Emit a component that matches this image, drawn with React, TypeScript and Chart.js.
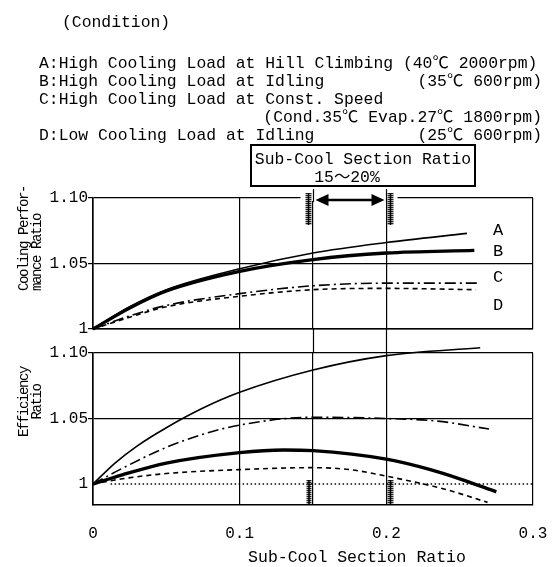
import React, { useEffect, useRef } from 'react';
import { Chart, registerables } from 'chart.js';

Chart.register(...registerables);

// ---------------- data ----------------
const X_TICKS = [0, 0.1, 0.15, 0.2, 0.3];
const X_TICK_LABELS = ['0', '0.1', '', '0.2', '0.3'];
const COOL_Y_TICKS = [1, 1.05, 1.1];
const COOL_Y_LABELS = ['1', '1.05', '1.10'];
const EFF_Y_TICKS = [1, 1.05, 1.1];
const EFF_Y_LABELS = ['1', '1.05', '1.10'];
const RANGE = [0.15, 0.2];
const SERIES_LABELS = ['A', 'B', 'C', 'D'];

// Cooling performance ratio (upper panel)
const COOL_A_X = [0, 0.025, 0.05, 0.1, 0.15, 0.2, 0.255];
const COOL_A_Y = [1.0, 1.017, 1.030, 1.046, 1.058, 1.066, 1.073];
const COOL_B_X = [0, 0.025, 0.05, 0.1, 0.15, 0.2, 0.26];
const COOL_B_Y = [1.0, 1.016, 1.029, 1.044, 1.053, 1.058, 1.060];
const COOL_C_X = [0, 0.025, 0.05, 0.1, 0.15, 0.2, 0.263];
const COOL_C_Y = [1.0, 1.010, 1.018, 1.027, 1.033, 1.035, 1.035];
const COOL_D_X = [0, 0.025, 0.05, 0.1, 0.15, 0.2, 0.261];
const COOL_D_Y = [1.0, 1.009, 1.017, 1.025, 1.030, 1.031, 1.030];

// Efficiency ratio (lower panel)
const EFF_A_X = [0, 0.015, 0.03, 0.05, 0.075, 0.1, 0.15, 0.2, 0.264];
const EFF_A_Y = [1.0, 1.016, 1.029, 1.043, 1.058, 1.070, 1.087, 1.098, 1.104];
const EFF_B_X = [0, 0.02, 0.05, 0.1, 0.13, 0.15, 0.2, 0.23, 0.25, 0.275];
const EFF_B_Y = [1.0, 1.007, 1.016, 1.024, 1.026, 1.0255, 1.019, 1.011, 1.004, 0.994];
const EFF_C_X = [0, 0.02, 0.05, 0.075, 0.1, 0.15, 0.2, 0.235, 0.27];
const EFF_C_Y = [1.0, 1.012, 1.028, 1.038, 1.045, 1.051, 1.050, 1.048, 1.042];
const EFF_D_X = [0, 0.02, 0.05, 0.1, 0.15, 0.175, 0.2, 0.24, 0.269];
const EFF_D_Y = [1.0, 1.004, 1.008, 1.011, 1.0125, 1.011, 1.006, 0.996, 0.986];
const EFF_BASE_X = [0.012, 0.3];
const EFF_BASE_Y = [1.0, 1.0];

// ---------------- layout / style ----------------
const PAGE_W = 555;
const PAGE_H = 567;
const PLOT_LEFT = 93;
const PLOT_RIGHT = 533;
const COOL_TOP = 198;
const COOL_BOTTOM = 329;
const EFF_TOP = 353;
const EFF_BOTTOM = 505;
const Y_AXIS_W = 60;
const X_AXIS_H = 45;
const MONO = "'Liberation Mono', 'Noto Sans CJK JP', monospace";

const STYLES: Record<string, { width: number; dash: number[] }> = {
  A: { width: 1.6, dash: [] },
  B: { width: 3.4, dash: [] },
  C: { width: 1.6, dash: [11, 4, 2, 4] },
  D: { width: 1.6, dash: [5, 4] },
  base: { width: 1.4, dash: [1.5, 2.5] },
};

function pts(xs: number[], ys: number[]) {
  return xs.map((x, i) => ({ x, y: ys[i] }));
}

function ds(label: string, xs: number[], ys: number[], styleKey: string) {
  const s = STYLES[styleKey];
  return {
    label,
    data: pts(xs, ys),
    showLine: true,
    borderColor: '#000',
    backgroundColor: '#000',
    borderWidth: s.width,
    borderDash: s.dash,
    pointRadius: 0,
    cubicInterpolationMode: 'monotone' as const,
    clip: false as const,
  };
}

function hatch(ctx: CanvasRenderingContext2D, x: number, y: number, w: number, h: number) {
  ctx.fillStyle = '#222';
  for (let yy = y; yy < y + h; yy += 2) ctx.fillRect(x, yy, w, 1.3);
  ctx.fillStyle = '#000';
  ctx.fillRect(x + w / 2 - 0.75, y, 1.5, h);
}

function arrow(ctx: CanvasRenderingContext2D, x1: number, x2: number, y: number) {
  const hl = 13;
  const hw = 6;
  ctx.strokeStyle = '#000';
  ctx.lineWidth = 2.4;
  ctx.beginPath();
  ctx.moveTo(x1 + hl - 2, y);
  ctx.lineTo(x2 - hl + 2, y);
  ctx.stroke();
  ctx.fillStyle = '#000';
  ctx.beginPath();
  ctx.moveTo(x1, y);
  ctx.lineTo(x1 + hl, y - hw);
  ctx.lineTo(x1 + hl, y + hw);
  ctx.closePath();
  ctx.fill();
  ctx.beginPath();
  ctx.moveTo(x2, y);
  ctx.lineTo(x2 - hl, y - hw);
  ctx.lineTo(x2 - hl, y + hw);
  ctx.closePath();
  ctx.fill();
}

const coolOverlay = {
  id: 'coolOverlay',
  afterDraw(chart: any) {
    const { ctx, chartArea } = chart;
    const xs = chart.scales.x;
    const xa = Math.round(xs.getPixelForValue(RANGE[0])) + 0.5;
    const xb = Math.round(xs.getPixelForValue(RANGE[1])) + 0.5;
    const top = chartArea.top;
    ctx.save();
    ctx.fillStyle = '#fff';
    ctx.fillRect(xa - 13, top - 3, xb + 11 - (xa - 13), 6);
    ctx.strokeStyle = '#000';
    ctx.lineWidth = 1.2;
    ctx.beginPath();
    ctx.moveTo(xa, top - 9);
    ctx.lineTo(xa, top + 4);
    ctx.moveTo(xb, top - 9);
    ctx.lineTo(xb, top + 4);
    ctx.stroke();
    hatch(ctx, xa - 8, top - 5, 6, 32);
    hatch(ctx, xb + 1, top - 5, 6, 32);
    arrow(ctx, xa + 2, xb - 2, top + 2);
    ctx.restore();
  },
};

const effOverlay = {
  id: 'effOverlay',
  afterDraw(chart: any) {
    const { ctx, chartArea } = chart;
    const xs = chart.scales.x;
    const xa = Math.round(xs.getPixelForValue(RANGE[0])) + 0.5;
    const xb = Math.round(xs.getPixelForValue(RANGE[1])) + 0.5;
    ctx.save();
    ctx.strokeStyle = '#000';
    ctx.lineWidth = 1.2;
    ctx.beginPath();
    ctx.moveTo(xa, COOL_BOTTOM);
    ctx.lineTo(xa, chartArea.top);
    ctx.moveTo(xb, COOL_BOTTOM);
    ctx.lineTo(xb, chartArea.top);
    ctx.stroke();
    hatch(ctx, xa - 7, chartArea.bottom - 25, 5, 24);
    hatch(ctx, xb + 1, chartArea.bottom - 25, 6, 24);
    ctx.restore();
  },
};

function makeOptions(
  top: number,
  bottom: number,
  yMin: number,
  yMax: number,
  yTicks: number[],
  yLabels: string[],
  showX: boolean,
  hideYGridAt1: boolean
): any {
  return {
    responsive: false,
    animation: false,
    events: [],
    layout: {
      padding: {
        left: PLOT_LEFT - Y_AXIS_W,
        right: PAGE_W - PLOT_RIGHT,
        top,
        bottom: PAGE_H - bottom - X_AXIS_H,
      },
    },
    plugins: { legend: { display: false }, tooltip: { enabled: false }, title: { display: false } },
    scales: {
      x: {
        type: 'linear',
        min: 0,
        max: 0.3,
        afterBuildTicks: (s: any) => {
          s.ticks = X_TICKS.map((value) => ({ value }));
        },
        afterFit: (s: any) => {
          s.height = X_AXIS_H;
          s.paddingLeft = 0;
          s.paddingRight = 0;
        },
        ticks: {
          display: showX,
          autoSkip: false,
          maxRotation: 0,
          padding: 19,
          color: '#000',
          font: { family: MONO, size: 16 },
          callback: (_v: any, i: number) => X_TICK_LABELS[i],
        },
        grid: { color: '#000', lineWidth: 1.2, drawTicks: false },
        border: { color: '#000', width: 1.6 },
      },
      y: {
        type: 'linear',
        min: yMin,
        max: yMax,
        afterBuildTicks: (s: any) => {
          s.ticks = yTicks.map((value) => ({ value }));
        },
        afterFit: (s: any) => {
          s.width = Y_AXIS_W;
          s.paddingTop = 0;
          s.paddingBottom = 0;
        },
        ticks: {
          autoSkip: false,
          padding: 0,
          color: '#000',
          font: { family: MONO, size: 16 },
          callback: (_v: any, i: number) => yLabels[i],
        },
        grid: {
          color: (c: any) =>
            hideYGridAt1 && c.tick && Math.abs(c.tick.value - 1) < 1e-9 ? 'rgba(0,0,0,0)' : '#000',
          lineWidth: 1.2,
          drawTicks: true,
          tickLength: 5,
        },
        border: { color: '#000', width: 1.6 },
      },
    },
  };
}

function Txt(props: {
  x: number;
  y: number;
  align?: 'left' | 'right' | 'center';
  size?: number;
  children: React.ReactNode;
  extra?: React.CSSProperties;
}) {
  const { x, y, align = 'left', size = 16.4, children, extra } = props;
  const style: React.CSSProperties = {
    position: 'absolute',
    top: y,
    whiteSpace: 'pre',
    fontSize: size,
    lineHeight: 1,
    transform: 'translateY(-50%)',
  };
  if (align === 'left') style.left = x;
  else if (align === 'right') style.right = PAGE_W - x;
  else {
    style.left = x;
    style.transform = 'translate(-50%, -50%)';
  }
  return <div style={{ ...style, ...extra }}>{children}</div>;
}

export default function App() {
  const coolRef = useRef<HTMLCanvasElement>(null);
  const effRef = useRef<HTMLCanvasElement>(null);

  useEffect(() => {
    const c1 = new Chart(coolRef.current as HTMLCanvasElement, {
      type: 'scatter',
      data: {
        datasets: [
          ds('A', COOL_A_X, COOL_A_Y, 'A'),
          ds('B', COOL_B_X, COOL_B_Y, 'B'),
          ds('C', COOL_C_X, COOL_C_Y, 'C'),
          ds('D', COOL_D_X, COOL_D_Y, 'D'),
        ] as any,
      },
      options: makeOptions(COOL_TOP, COOL_BOTTOM, 1, 1.1, COOL_Y_TICKS, COOL_Y_LABELS, false, false),
      plugins: [coolOverlay],
    });
    const c2 = new Chart(effRef.current as HTMLCanvasElement, {
      type: 'scatter',
      data: {
        datasets: [
          ds('base', EFF_BASE_X, EFF_BASE_Y, 'base'),
          ds('A', EFF_A_X, EFF_A_Y, 'A'),
          ds('B', EFF_B_X, EFF_B_Y, 'B'),
          ds('C', EFF_C_X, EFF_C_Y, 'C'),
          ds('D', EFF_D_X, EFF_D_Y, 'D'),
        ] as any,
      },
      options: makeOptions(EFF_TOP, EFF_BOTTOM, 0.984, 1.1, EFF_Y_TICKS, EFF_Y_LABELS, true, true),
      plugins: [effOverlay],
    });
    return () => {
      c1.destroy();
      c2.destroy();
    };
  }, []);

  const canvasStyle: React.CSSProperties = { position: 'absolute', left: 0, top: 0, width: PAGE_W, height: PAGE_H };
  const labelYs = [230, 251, 277, 305];
  const rotBase: React.CSSProperties = {
    position: 'absolute',
    left: 17.5,
    transform: 'rotate(-90deg)',
    transformOrigin: 'left top',
    fontSize: 14,
    lineHeight: '13px',
    letterSpacing: -1.4,
    whiteSpace: 'pre',
  };

  return (
    <div
      style={{
        position: 'absolute',
        left: 0,
        top: 0,
        width: PAGE_W,
        height: PAGE_H,
        background: '#fff',
        overflow: 'hidden',
        fontFamily: MONO,
        color: '#000',
      }}
    >
      <canvas ref={coolRef} width={PAGE_W} height={PAGE_H} style={canvasStyle} />
      <canvas ref={effRef} width={PAGE_W} height={PAGE_H} style={canvasStyle} />

      <Txt x={62} y={23}>(Condition)</Txt>
      <Txt x={39} y={64}>A:High Cooling Load at Hill Climbing (40℃ 2000rpm)</Txt>
      <Txt x={39} y={82}>B:High Cooling Load at Idling</Txt>
      <Txt x={542} y={82} align="right">(35℃ 600rpm)</Txt>
      <Txt x={39} y={100}>C:High Cooling Load at Const. Speed</Txt>
      <Txt x={542} y={118} align="right">(Cond.35℃ Evap.27℃ 1800rpm)</Txt>
      <Txt x={39} y={136}>D:Low Cooling Load at Idling</Txt>
      <Txt x={542} y={136} align="right">(25℃ 600rpm)</Txt>

      <div
        style={{
          position: 'absolute',
          left: 250,
          top: 144,
          width: 226,
          height: 43,
          border: '2px solid #000',
          boxSizing: 'border-box',
        }}
      />
      <Txt x={363} y={160} align="center">Sub-Cool Section Ratio</Txt>
      <Txt x={347} y={178} align="center">15～20%</Txt>

      {SERIES_LABELS.map((l, i) => (
        <Txt key={l} x={498} y={labelYs[i]} align="center" size={17}>
          {l}
        </Txt>
      ))}

      <div style={{ ...rotBase, top: 291, textAlign: 'left' }}>
        <div>Cooling Perfor-</div>
        <div>mance Ratio</div>
      </div>
      <div style={{ ...rotBase, top: 452, width: 100, textAlign: 'center' }}>
        <div>Efficiency</div>
        <div>Ratio</div>
      </div>

      <Txt x={357} y={558} align="center" size={16.5}>Sub-Cool Section Ratio</Txt>
    </div>
  );
}
